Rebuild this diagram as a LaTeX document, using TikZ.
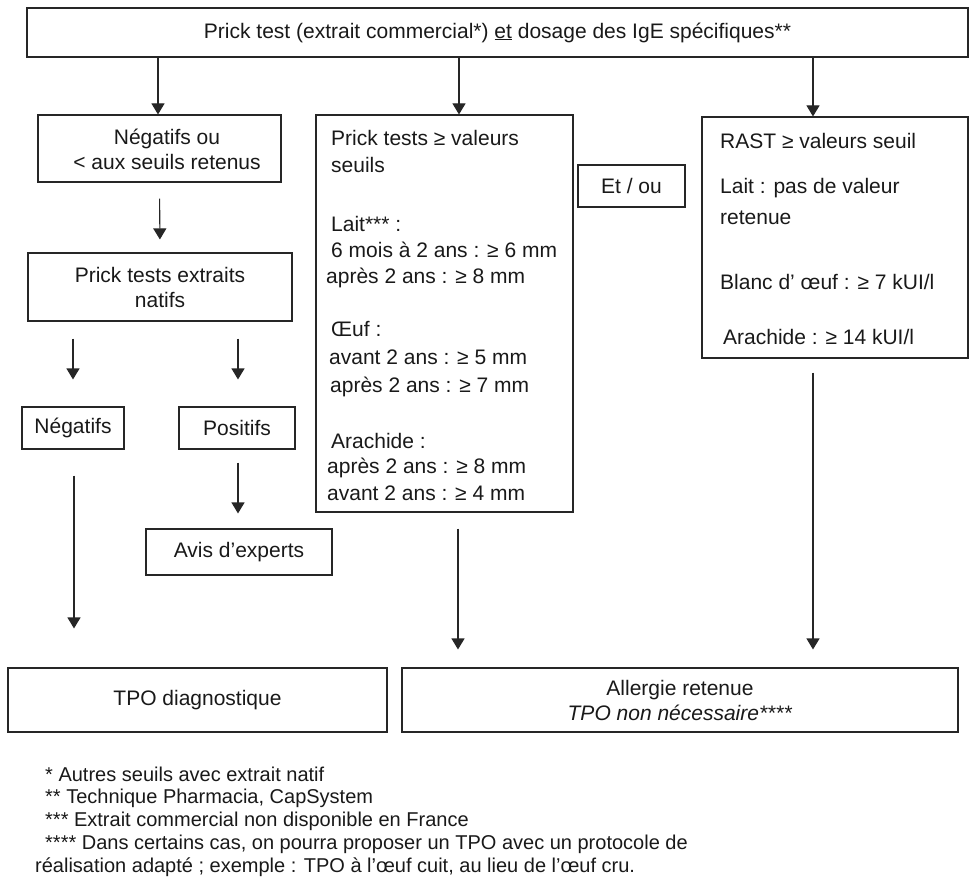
\documentclass[tikz,border=0pt]{standalone}
\usepackage{fontspec}
\setmainfont{Liberation Sans}
\usetikzlibrary{arrows.meta}
\begin{document}
\begin{tikzpicture}[x=1pt,y=-1pt,
  box/.style={draw=black!85, line width=1.1pt, inner sep=0pt, font=\fontsize{21}{25}\selectfont, text=black!90, align=center},
  ln/.style={inner sep=0pt, anchor=west, font=\fontsize{21}{25}\selectfont, text height=16pt, text depth=3pt, text=black!90},
  fn/.style={inner sep=0pt, anchor=west, font=\fontsize{20}{22}\selectfont, text height=15pt, text depth=3pt, text=black!90},
  arr/.style={draw=black!85, line width=1.1pt, -{Triangle[length=11pt,width=13pt]}}]
\useasboundingbox (0,0) rectangle (969,888);

% boxes
\node[box, minimum width=941pt, minimum height=49pt] (top) at (497.5,32.5)
  {Prick test (extrait commercial*) \underline{et} dosage des IgE spécifiques**};
\node[box, minimum width=243pt, minimum height=67pt] (neg1) at (159.5,148.5) {};
\node[inner sep=0pt, font=\fontsize{21}{25}\selectfont, text=black!90, align=center] (neg1t) at (167,149)
  {Négatifs ou\\< aux seuils retenus};
\node[box, minimum width=264pt, minimum height=68pt] (nat) at (160,287) {Prick tests extraits\\natifs};
\node[box, minimum width=102pt, minimum height=42pt] (negb) at (73,428) {Négatifs};
\node[box, minimum width=116pt, minimum height=42pt] (posb) at (237,428) {Positifs};
\node[box, minimum width=186pt, minimum height=46pt] (avis) at (239,552) {Avis d’experts};
\node[box, minimum width=257pt, minimum height=397pt] (mid) at (444.5,313.5) {};
\node[box, minimum width=107pt, minimum height=42pt] (etou) at (631.5,186) {Et / ou};
\node[box, minimum width=266pt, minimum height=241pt] (rast) at (835,237.5) {};
\node[box, minimum width=379pt, minimum height=64pt] (tpo) at (197.5,700) {TPO diagnostique};
\node[box, minimum width=556pt, minimum height=64pt] (alle) at (680,700)
  {Allergie retenue\\\textit{TPO non nécessaire****}};

% middle box text
\node[ln] (m1) at (331,139) {Prick tests ≥ valeurs};
\node[ln] (m2) at (331,166) {seuils};
\node[ln] (m3) at (331,225) {Lait*** :};
\node[ln] (m4) at (331,251) {6 mois à 2 ans : ≥ 6 mm};
\node[ln] (m5) at (326,277) {après 2 ans : ≥ 8 mm};
\node[ln] (m6) at (331,330) {Œuf :};
\node[ln] (m7) at (329,358) {avant 2 ans : ≥ 5 mm};
\node[ln] (m8) at (330,386) {après 2 ans : ≥ 7 mm};
\node[ln] (m9) at (331,442) {Arachide :};
\node[ln] (m10) at (327,467) {après 2 ans : ≥ 8 mm};
\node[ln] (m11) at (327,494) {avant 2 ans : ≥ 4 mm};

% right box text
\node[ln] (r1) at (720,142) {RAST ≥ valeurs seuil};
\node[ln] (r2) at (720,187) {Lait : pas de valeur};
\node[ln] (r3) at (720,218) {retenue};
\node[ln] (r4) at (720,283) {Blanc d’ œuf : ≥ 7 kUI/l};
\node[ln] (r5) at (723,338) {Arachide : ≥ 14 kUI/l};

% arrows
\draw[arr] ([xshift=-1.5pt]neg1.north |- top.south) -- ([xshift=-1.5pt]neg1.north);
\draw[arr] ([xshift=14.5pt]mid.north |- top.south) -- ([xshift=14.5pt]mid.north);
\draw[arr] ([xshift=-22pt]rast.north |- top.south) -- ([xshift=-22pt]rast.north);
\draw[arr, shorten <=16pt, shorten >=13pt] (neg1.south) -- (nat.north);
\draw[arr, shorten <=17pt, shorten >=27pt] (negb.north |- nat.south) -- (negb.north);
\draw[arr, shorten <=17pt, shorten >=27pt] ([xshift=1pt]posb.north |- nat.south) -- ([xshift=1pt]posb.north);
\draw[arr, shorten <=13pt, shorten >=15pt] ([xshift=1pt]posb.south) -- ([xshift=1pt]posb.south |- avis.north);
\draw[arr, shorten <=26pt, shorten >=39pt] ([xshift=1pt]negb.south) -- ([xshift=1pt]negb.south |- tpo.north);
\draw[arr, shorten <=16pt, shorten >=18pt] ([xshift=13.5pt]mid.south) -- ([xshift=13.5pt]mid.south |- alle.north);
\draw[arr, shorten <=14pt, shorten >=18pt] ([xshift=-22pt]rast.south) -- ([xshift=-22pt]rast.south |- alle.north);

% footnotes
\node[fn] (f1) at (45,775) {* Autres seuils avec extrait natif};
\node[fn] (f2) at (45,797) {** Technique Pharmacia, CapSystem};
\node[fn] (f3) at (45,820) {*** Extrait commercial non disponible en France};
\node[fn] (f4) at (45,843) {**** Dans certains cas, on pourra proposer un TPO avec un protocole de};
\node[fn] (f5) at (35,866) {réalisation adapté ; exemple : TPO à l’œuf cuit, au lieu de l’œuf cru.};
\end{tikzpicture}
\end{document}
